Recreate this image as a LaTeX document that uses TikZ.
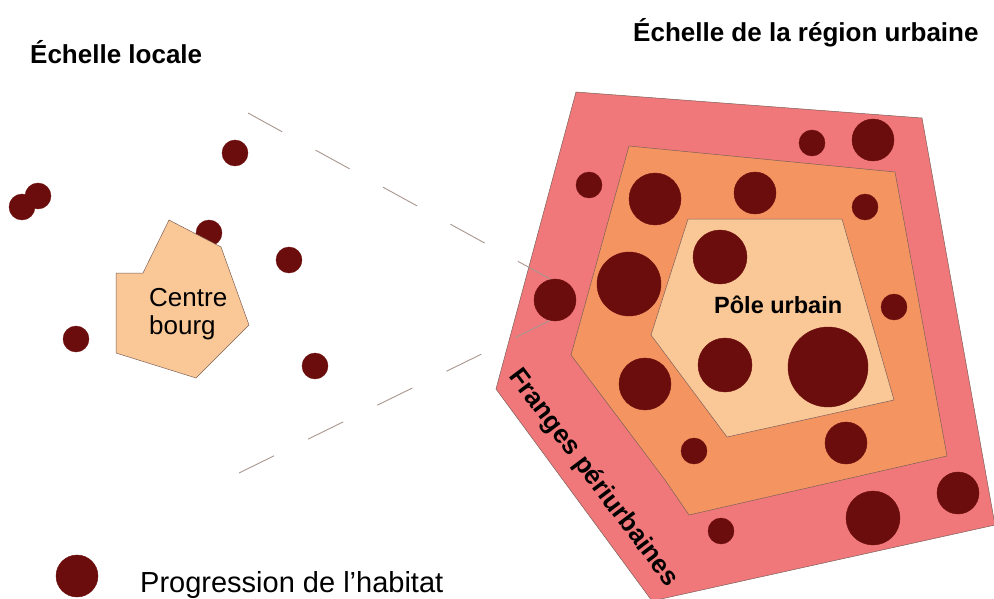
\documentclass[tikz,border=0pt]{standalone}
\usepackage{fontspec}
\setmainfont{Liberation Sans}
\definecolor{habitat}{RGB}{108,13,13}
\definecolor{frange}{RGB}{240,120,122}
\definecolor{couronne}{RGB}{244,148,97}
\definecolor{pole}{RGB}{250,200,150}
\definecolor{contour}{RGB}{125,95,88}
\definecolor{trait}{RGB}{168,150,142}

\begin{document}
\begin{tikzpicture}[x=1pt, y=-1pt,
  hab/.style={circle, fill=habitat, draw=habitat, line width=0.4pt, inner sep=0pt},
  zone/.style={draw=contour, line width=0.5pt},
  zoomline/.style={draw=trait, line width=0.9pt, dash pattern=on 39pt off 38pt},
  titre/.style={font=\bfseries\fontsize{26}{30}\selectfont, inner sep=0pt}]
\useasboundingbox (0,0) rectangle (994,599);

% echelle locale
\node[titre, anchor=base west] (tloc) at (30,64) {Échelle locale};
\node[hab, minimum size=26pt] (l1) at (235,153) {};
\node[hab, minimum size=26pt] (l2) at (22,207) {};
\node[hab, minimum size=26pt] (l3) at (38,196) {};
\node[hab, minimum size=26pt] (l4) at (209,233) {};
\node[hab, minimum size=26pt] (l5) at (289,260) {};
\node[hab, minimum size=26pt] (l6) at (76,339) {};
\node[hab, minimum size=26pt] (l7) at (315,366) {};
\filldraw[zone, fill=pole] (169,220) -- (221,247) -- (249,325) -- (196,378)
  -- (116,353) -- (116,273) -- (143,273) -- cycle;
\node[anchor=north west, align=left, inner sep=0pt, font=\fontsize{26}{28}\selectfont] (bourg) at (149,288) {Centre\\bourg};

% echelle de la region urbaine
\node[titre, anchor=base west] (treg) at (633,42) {Échelle de la région urbaine};
\filldraw[zone, fill=frange] (576,92) -- (922,118) -- (995,525) -- (652,601) -- (496,389) -- cycle;
\filldraw[zone, fill=couronne] (629,146) -- (895,172) -- (947,456) -- (689,515) -- (665,480) -- (571,355) -- cycle;
\filldraw[zone, fill=pole] (688,219) -- (842,219) -- (894,400) -- (727,437) -- (651,335) -- cycle;

\node[hab, minimum size=26pt] (r1) at (812,143) {};
\node[hab, minimum size=42pt] (r2) at (873,140) {};
\node[hab, minimum size=26pt] (r3) at (589,185) {};
\node[hab, minimum size=52pt] (r4) at (655,199) {};
\node[hab, minimum size=42pt] (r5) at (755,193) {};
\node[hab, minimum size=26pt] (r6) at (865,207) {};
\node[hab, minimum size=54pt] (r7) at (720,257) {};
\node[hab, minimum size=64pt] (r8) at (629,284) {};
\node[hab, minimum size=42pt] (r9) at (555,300) {};
\node[hab, minimum size=26pt] (r10) at (894,307) {};
\node[hab, minimum size=54pt] (r11) at (725,365) {};
\node[hab, minimum size=80pt] (r12) at (828,367) {};
\node[hab, minimum size=52pt] (r13) at (645,384) {};
\node[hab, minimum size=42pt] (r14) at (846,443) {};
\node[hab, minimum size=26pt] (r15) at (694,451) {};
\node[hab, minimum size=42pt] (r16) at (958,493) {};
\node[hab, minimum size=54pt] (r17) at (873,518) {};
\node[hab, minimum size=26pt] (r18) at (721,531) {};

\node[anchor=base west, inner sep=0pt, font=\bfseries\fontsize{23.5}{28}\selectfont] (pole) at (714,313) {Pôle urbain};
\node[titre, rotate=-53] (franges) at (593,478) {Franges périurbaines};

% lignes de zoom
\coordinate (zh) at (248,113);
\coordinate (zb) at (239,473);
\draw[zoomline] (zh) -- (r9.102);
\draw[zoomline] (zb) -- (r9.256);

% legende
\node[hab, minimum size=42pt] (leg) at (77,576) {};
\node[anchor=base west, inner sep=0pt, font=\fontsize{29}{32}\selectfont] (legtxt) at (140,592) {Progression de l’habitat};
\end{tikzpicture}
\end{document}
